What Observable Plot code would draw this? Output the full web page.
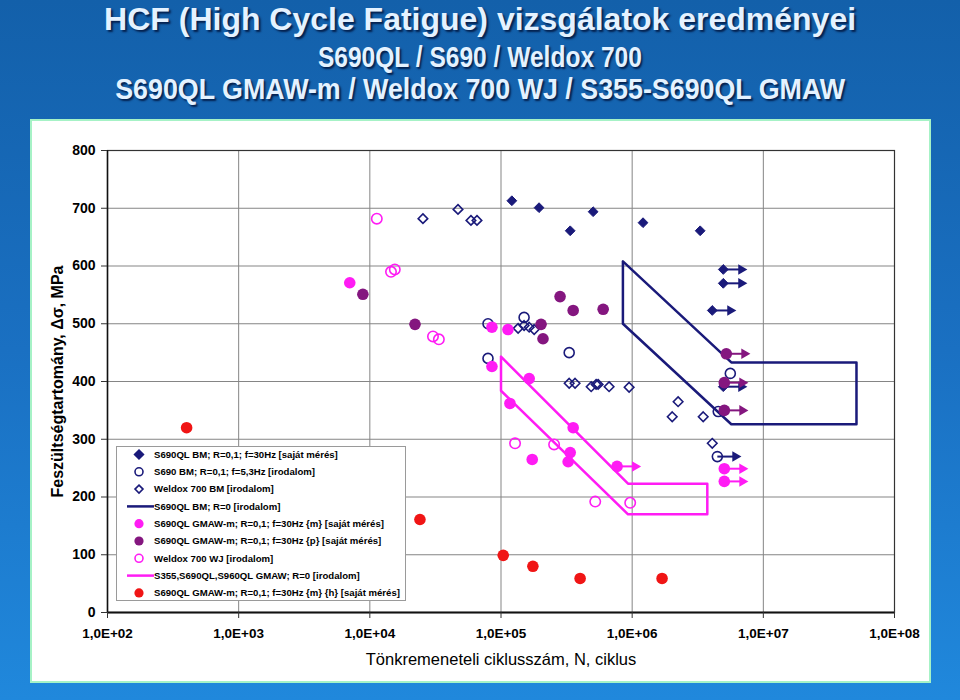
<!DOCTYPE html>
<html>
<head>
<meta charset="utf-8">
<script src="https://cdn.jsdelivr.net/npm/d3@7"></script>
<script src="https://cdn.jsdelivr.net/npm/@observablehq/plot@0.6"></script>
<style>
  html, body { margin: 0; padding: 0; }
  body {
    width: 960px; height: 700px; overflow: hidden; position: relative;
    background: linear-gradient(180deg, #1360aa 0%, #1a70c2 50%, #2088dc 100%);
    font-family: "Liberation Sans", Arial, sans-serif;
  }
  .title {
    position: absolute; left: 0; width: 960px; text-align: center;
    color: #e4f2ff; font-weight: bold; line-height: 1;
    text-shadow: 2px 2px 2px rgba(0, 20, 60, 0.85);
    white-space: nowrap;
  }
  .title span { display: inline-block; transform-origin: 50% 50%; }
  #panel {
    position: absolute; left: 30px; top: 119px; width: 897px; height: 560px;
    background: white; border: 2px solid #a6f2c6;
  }
  #legend { position: absolute; left: 84px; top: 325px; }
</style>
</head>
<body>
<div class="title" id="t1" style="top:3px;font-size:32px"><span>HCF (High Cycle Fatigue) vizsgálatok eredményei</span></div>
<div class="title" id="t2" style="top:42px;font-size:30px"><span>S690QL / S690 / Weldox 700</span></div>
<div class="title" id="t3" style="top:74px;font-size:30px"><span>S690QL GMAW-m / Weldox 700 WJ / S355-S690QL GMAW</span></div>
<div id="panel"></div>
<script>
// ---- Axis ticks ----
const xTicks = [1e2, 1e3, 1e4, 1e5, 1e6, 1e7, 1e8];
const yTicks = [0, 100, 200, 300, 400, 500, 600, 700, 800];
const xLabel = "Tönkremeneteli ciklusszám, N, ciklus";
const yLabel = "Feszültségtartomány, Δσ, MPa";

// ---- Series names (legend) ----
const seriesNames = [
  "S690QL BM; R=0,1; f=30Hz [saját mérés]",
  "S690 BM; R=0,1; f=5,3Hz [irodalom]",
  "Weldox 700 BM [irodalom]",
  "S690QL BM; R=0 [irodalom]",
  "S690QL GMAW-m; R=0,1; f=30Hz {m} [saját mérés]",
  "S690QL GMAW-m; R=0,1; f=30Hz {p} [saját mérés]",
  "Weldox 700 WJ [irodalom]",
  "S355,S690QL,S960QL GMAW; R=0 [irodalom]",
  "S690QL GMAW-m; R=0,1; f=30Hz {m} {h} [saját mérés]"
];

// ---- Series 1: S690QL BM, filled diamonds ----
const s1N = [1.21e5, 1.95e5, 3.37e5, 5.04e5, 1.21e6, 3.3e6, 4.95e6, 4.95e6, 4.08e6, 4.95e6];
const s1S = [713, 701, 661, 694, 675, 661, 594, 570, 523, 391];
const s1Run = [0, 0, 0, 0, 0, 0, 1, 1, 1, 1];

// ---- Series 2: S690 BM, open circles ----
const s2N = [7.96e4, 1.5e5, 7.96e4, 3.31e5, 5.6e6, 4.53e6, 4.46e6];
const s2S = [500, 511, 440, 450, 414, 348, 270];
const s2Run = [0, 0, 0, 0, 0, 0, 1];

// ---- Series 3: Weldox 700 BM, open diamonds ----
const s3N = [2.54e4, 4.7e4, 5.9e4, 6.56e4, 1.35e5, 1.5e5, 1.64e5, 1.79e5, 3.31e5, 3.67e5, 4.87e5, 5.31e5, 5.5e5, 6.67e5, 9.48e5, 2.02e6, 2.24e6, 3.48e6, 4.08e6];
const s3S = [682, 698, 679, 679, 492, 497, 494, 490, 397, 397, 391, 395, 395, 391, 390, 339, 365, 339, 293];

// ---- Series 4: S690QL BM R=0 band (closed outline) ----
const s4N = [8.5e5, 8.5e5, 5.7e6, 5.13e7, 5.13e7, 5.7e6, 8.5e5];
const s4S = [608, 500, 326, 326, 433, 433, 608];

// ---- Series 5: GMAW-m {m}, magenta filled ----
const s5N = [7.03e3, 8.53e4, 1.13e5, 8.53e4, 1.64e5, 1.17e5, 3.55e5, 3.37e5, 3.25e5, 1.73e5, 7.67e5, 5.04e6, 5.04e6];
const s5S = [571, 494, 490, 426, 405, 362, 320, 277, 261, 265, 253, 249, 227];
const s5Run = [0, 0, 0, 0, 0, 0, 0, 0, 0, 0, 1, 1, 1];

// ---- Series 6: GMAW-m {p}, purple filled ----
const s6N = [8.85e3, 2.21e4, 2.82e5, 3.55e5, 6.01e5, 2.02e5, 2.09e5, 5.22e6, 5.04e6, 5.04e6];
const s6S = [551, 499, 547, 523, 525, 499, 474, 448, 398, 350];
const s6Run = [0, 0, 0, 0, 0, 0, 0, 1, 1, 1];

// ---- Series 7: Weldox 700 WJ, magenta open circles ----
const s7N = [1.13e4, 1.45e4, 1.55e4, 3.03e4, 3.36e4, 1.28e5, 2.54e5, 5.23e5, 9.66e5];
const s7S = [682, 590, 594, 478, 473, 293, 291, 192, 190];

// ---- Series 8: S355,S690QL,S960QL GMAW R=0 band ----
const s8N = [1e5, 1e5, 9.3e5, 3.74e6, 3.74e6, 9.3e5, 1e5];
const s8S = [443, 384, 170, 170, 223, 223, 443];

// ---- Series 9: GMAW-m {m}{h}, red filled ----
const s9N = [401, 2.41e4, 1.04e5, 1.75e5, 4.01e5, 1.69e6];
const s9S = [320, 161, 99, 80, 59, 59];

// ---- Colours ----
const NAVY = "#1a1a7a", MAG = "#ff1cf4", PURP = "#84167f", RED = "#f01515";

const pts = (N, S, run) => N.map((n, i) => ({N: n, S: S[i], run: run ? run[i] : 0}));
const d1 = pts(s1N, s1S, s1Run), d2 = pts(s2N, s2S, s2Run), d3s = pts(s3N, s3S);
const d4 = pts(s4N, s4S), d5 = pts(s5N, s5S, s5Run), d6 = pts(s6N, s6S, s6Run);
const d7 = pts(s7N, s7S), d8 = pts(s8N, s8S), d9 = pts(s9N, s9S);

const SHAFT = 1.372; // run-out arrow shaft end factor (log scale)
function runoutMarks(data, color) {
  const r = data.filter(d => d.run);
  return [
    Plot.link(r, {x1: "N", y1: "S", x2: d => d.N * SHAFT, y2: "S", stroke: color, strokeWidth: 2}),
    Plot.dot(r, {x: d => d.N * SHAFT, y: "S", symbol: "triangle", r: 3.9, fill: color, stroke: "none", rotate: 90})
  ];
}

const fmt = d => "1,0E+" + String(Math.round(Math.log10(d))).padStart(2, "0");

const chart = Plot.plot({
  width: 897, height: 560,
  marginLeft: 75, marginRight: 35, marginTop: 29, marginBottom: 69,
  style: {background: "white", fontFamily: "'Liberation Sans', Arial, sans-serif", color: "black", overflow: "visible"},
  x: {type: "log", domain: [1e2, 1e8]},
  y: {domain: [0, 800]},
  marks: [
    Plot.gridX({ticks: xTicks, stroke: "#858585", strokeOpacity: 1, strokeWidth: 1}),
    Plot.gridY({ticks: yTicks, stroke: "#858585", strokeOpacity: 1, strokeWidth: 1}),
    Plot.frame({stroke: "#333", strokeWidth: 1.2}),
    Plot.ruleY([0], {stroke: "#111", strokeWidth: 2}),
    Plot.ruleX([1e2], {stroke: "#111", strokeWidth: 1.5}),
    Plot.axisX({ticks: xTicks, tickFormat: fmt, tickSize: 6, tickPadding: 10, fontSize: 13.5, fontWeight: "bold", label: null, stroke: "#333"}),
    Plot.axisY({ticks: yTicks, tickSize: 6, tickPadding: 6, fontSize: 14, fontWeight: "bold", label: null, stroke: "#333"}),
    Plot.text([xLabel], {frameAnchor: "bottom", dy: 47, lineAnchor: "middle", textAnchor: "middle", fontSize: 16.5, fill: "black"}),
    Plot.text([yLabel], {frameAnchor: "left", dx: -50, rotate: -90, lineAnchor: "middle", textAnchor: "middle", fontSize: 16, fontWeight: "bold", fill: "black"}),

    // Series 1-3
    ...runoutMarks(d1, NAVY),
    Plot.dot(d1, {x: "N", y: "S", symbol: "diamond2", r: 4.4, fill: NAVY, stroke: NAVY, strokeWidth: 1}),
    ...runoutMarks(d2, NAVY),
    Plot.dot(d2, {x: "N", y: "S", symbol: "circle", r: 5, fill: "none", stroke: NAVY, strokeWidth: 1.6}),
    Plot.dot(d3s, {x: "N", y: "S", symbol: "diamond2", r: 4.3, fill: "none", stroke: NAVY, strokeWidth: 1.6}),
    // Series 4 band
    Plot.line(d4, {x: "N", y: "S", stroke: NAVY, strokeWidth: 2.5, curve: "linear"}),
    // Series 5-7
    ...runoutMarks(d5, MAG),
    Plot.dot(d5, {x: "N", y: "S", r: 5.8, fill: MAG, stroke: "none"}),
    ...runoutMarks(d6, PURP),
    Plot.dot(d6, {x: "N", y: "S", r: 5.8, fill: PURP, stroke: "none"}),
    Plot.dot(d7, {x: "N", y: "S", symbol: "circle", r: 5.2, fill: "none", stroke: MAG, strokeWidth: 1.6}),
    // Series 8 band
    Plot.line(d8, {x: "N", y: "S", stroke: MAG, strokeWidth: 2.5, curve: "linear"}),
    // Series 9
    Plot.dot(d9, {x: "N", y: "S", r: 5.8, fill: RED, stroke: "none"})
  ]
});
document.getElementById("panel").appendChild(chart);

// ---- Legend (inside plot area) ----
const legendKinds = [
  {type: "dot", symbol: "diamond2", r: 4, fill: NAVY, stroke: NAVY},
  {type: "dot", symbol: "circle", r: 4, fill: "none", stroke: NAVY},
  {type: "dot", symbol: "diamond2", r: 3.6, fill: "none", stroke: NAVY},
  {type: "line", stroke: NAVY},
  {type: "dot", symbol: "circle", r: 4.6, fill: MAG, stroke: "none"},
  {type: "dot", symbol: "circle", r: 4.6, fill: PURP, stroke: "none"},
  {type: "dot", symbol: "circle", r: 4, fill: "none", stroke: MAG},
  {type: "line", stroke: MAG},
  {type: "dot", symbol: "circle", r: 4.6, fill: RED, stroke: "none"}
];
const symMap = {circle: d3.symbolCircle, diamond2: d3.symbolDiamond2};
const lg = d3.create("svg").attr("id", "legend").attr("width", 291).attr("height", 156);
lg.append("rect").attr("x", 0.5).attr("y", 0.5).attr("width", 289).attr("height", 154)
  .attr("fill", "white").attr("stroke", "#9a9a9a").attr("stroke-width", 1);
seriesNames.forEach((name, i) => {
  const y = 8.5 + 17.3 * i;
  const k = legendKinds[i];
  if (k.type === "line") {
    lg.append("line").attr("x1", 11).attr("x2", 38).attr("y1", y).attr("y2", y)
      .attr("stroke", k.stroke).attr("stroke-width", 2.5);
  } else {
    lg.append("path").attr("transform", `translate(23,${y})`)
      .attr("d", d3.symbol(symMap[k.symbol], Math.PI * k.r * k.r)())
      .attr("fill", k.fill).attr("stroke", k.stroke).attr("stroke-width", 1.6);
  }
  lg.append("text").attr("x", 38).attr("y", y).attr("dy", "0.35em")
    .attr("font-size", 9.6).attr("font-weight", "bold")
    .attr("font-family", "'Liberation Sans', Arial, sans-serif").text(name);
});
document.getElementById("panel").appendChild(lg.node());

// ---- Fit title widths to the reference ----
[["t1", 752], ["t2", 324], ["t3", 730]].forEach(([id, w]) => {
  const s = document.querySelector("#" + id + " span");
  const cw = s.getBoundingClientRect().width;
  s.style.transform = `scaleX(${w / cw})`;
});
</script>
</body>
</html>
